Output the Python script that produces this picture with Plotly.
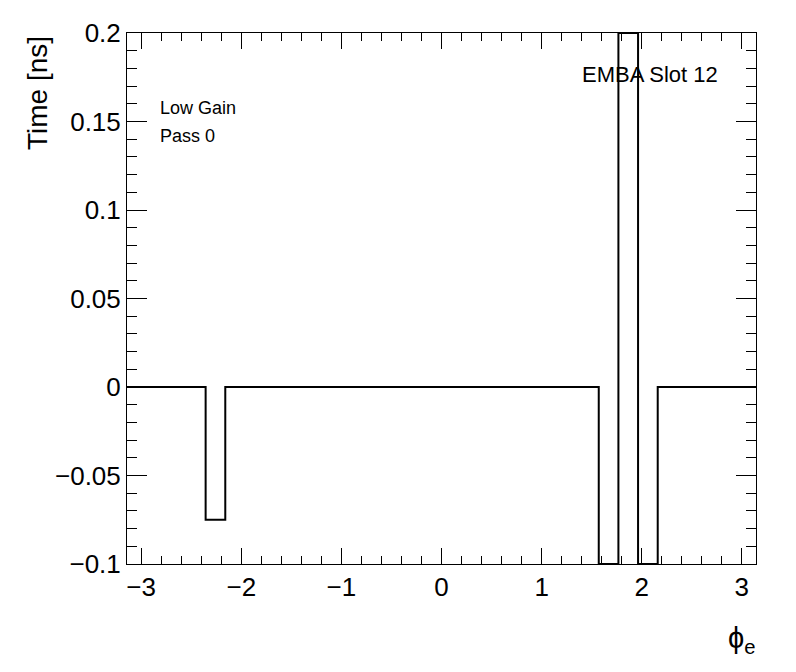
import numpy as np
import plotly.graph_objects as go

# Histogram: 32 bins over [-pi, pi]
n_bins = 32
x_min, x_max = -np.pi, np.pi
values = [0, 0, 0, 0, -0.075, 0, 0, 0,
          0, 0, 0, 0, 0, 0, 0, 0,
          0, 0, 0, 0, 0, 0, 0, 0,
          -0.1, 0.2, -0.1, 0, 0, 0, 0, 0]
x_ticks = [-3, -2, -1, 0, 1, 2, 3]
y_ticks = [-0.1, -0.05, 0, 0.05, 0.1, 0.15, 0.2]
y_ticklabels = ["\u22120.1", "\u22120.05", "0", "0.05", "0.1", "0.15", "0.2"]

edges = np.linspace(x_min, x_max, n_bins + 1)
ys = list(values) + [values[-1]]

FONT = "Liberation Sans, Arial, Helvetica, sans-serif"

fig = go.Figure()
fig.add_trace(go.Scatter(x=edges, y=ys, mode="lines", line_shape="hv",
                         line=dict(color="black", width=2), showlegend=False,
                         hoverinfo="skip", cliponaxis=True))

fig.update_layout(
    width=796, height=672,
    margin=dict(l=127, r=40, t=33, b=108),
    paper_bgcolor="white", plot_bgcolor="white",
    font=dict(family=FONT, color="black"),
    showlegend=False,
)
fig.update_xaxes(range=[x_min, x_max], tickvals=x_ticks,
                 ticktext=[("\u2212" + str(-t)) if t < 0 else str(t) for t in x_ticks],
                 ticks="inside", ticklen=16, tickwidth=1, tickcolor="black",
                 minor=dict(ticks="inside", ticklen=8, dtick=0.2, tick0=0, tickcolor="black", tickwidth=1),
                 showline=True, linecolor="black", linewidth=1, mirror="allticks",
                 showgrid=False, zeroline=False,
                 tickfont=dict(size=26, family=FONT))
fig.update_yaxes(range=[-0.1, 0.2], tickvals=y_ticks, ticktext=y_ticklabels,
                 ticks="inside", ticklen=20, tickwidth=1, tickcolor="black",
                 minor=dict(ticks="inside", ticklen=10, dtick=0.01, tick0=0, tickcolor="black", tickwidth=1),
                 showline=True, linecolor="black", linewidth=1, mirror="allticks",
                 showgrid=False, zeroline=False,
                 tickfont=dict(size=26, family=FONT))

annotations = [
    dict(text="Time [ns]", xref="paper", yref="paper",
         x=(38 - 127) / 629, y=1 - (93 - 33) / 531, xanchor="center", yanchor="middle",
         textangle=-90, showarrow=False, font=dict(size=28, family=FONT)),
    dict(text="\u03d5<sub>e</sub>", xref="paper", yref="paper",
         x=(758 - 127) / 629, y=-(640 - 564) / 531, xanchor="right", yanchor="middle",
         showarrow=False, font=dict(size=29, family=FONT)),
    dict(text="EMBA Slot 12", xref="paper", yref="paper",
         x=(580 - 127) / 629, y=1 - (74 - 33) / 531, xanchor="left", yanchor="middle",
         showarrow=False, font=dict(size=22, family=FONT)),
    dict(text="Low Gain", xref="paper", yref="paper",
         x=(158 - 127) / 629, y=1 - (108 - 33) / 531, xanchor="left", yanchor="middle",
         showarrow=False, font=dict(size=18, family=FONT)),
    dict(text="Pass 0", xref="paper", yref="paper",
         x=(158 - 127) / 629, y=1 - (136 - 33) / 531, xanchor="left", yanchor="middle",
         showarrow=False, font=dict(size=18, family=FONT)),
]
fig.update_layout(annotations=annotations)

fig.write_html("out.html", config={"displayModeBar": False},
               post_script="document.body.style.margin='0';document.body.style.padding='0';")
